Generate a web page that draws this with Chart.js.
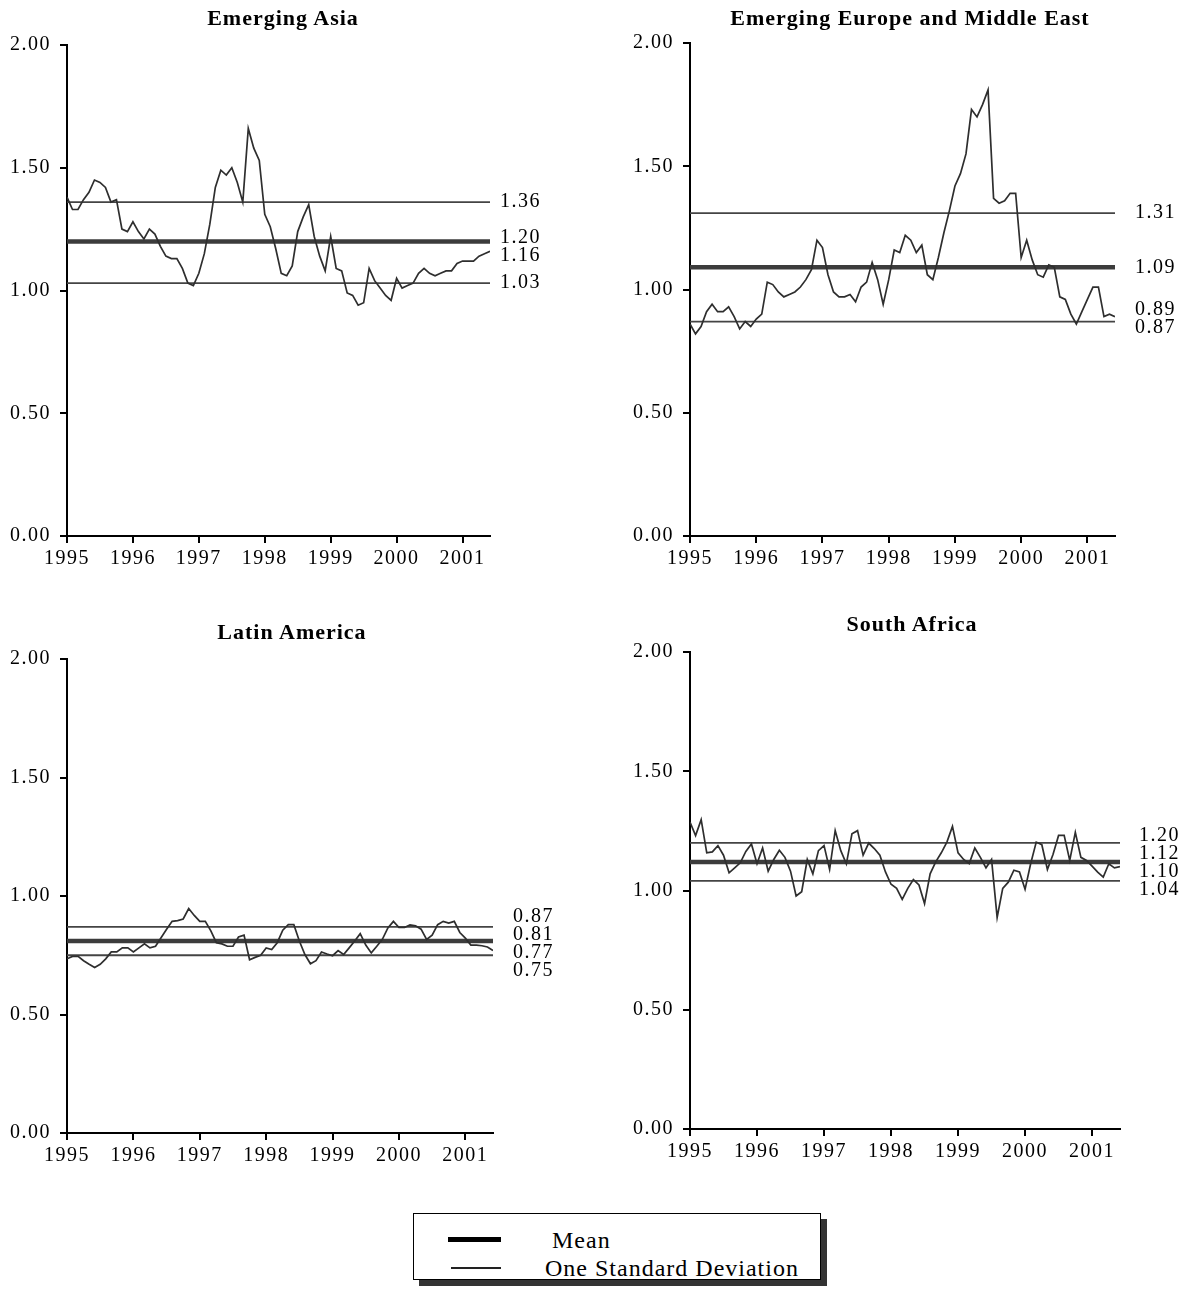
<!DOCTYPE html>
<html>
<head>
<meta charset="utf-8">
<script src="https://cdn.jsdelivr.net/npm/chart.js@4.4.1/dist/chart.umd.min.js"></script>
<style>
  html, body { margin: 0; padding: 0; background: #fff; }
  body { width: 1183px; height: 1295px; position: relative; overflow: hidden;
         font-family: "Liberation Serif", "Times New Roman", serif; color: #000; }
  canvas { position: absolute; }
  .title { position: absolute; font-weight: bold; font-size: 22px; letter-spacing: 1px; white-space: nowrap;
           transform: translate(-50%, -50%); }
  #legend { position: absolute; left: 413px; top: 1213px; width: 406px; height: 65px;
            border: 1px solid #000; background: #fff; box-shadow: 6px 6px 0 #333; }
  .lg-line { position: absolute; background: #000; }
  .lg-text { position: absolute; font-size: 24px; letter-spacing: 1px; white-space: nowrap; transform: translateY(-50%); }
</style>
</head>
<body>

<canvas id="c1"></canvas>
<canvas id="c2"></canvas>
<canvas id="c3"></canvas>
<canvas id="c4"></canvas>

<div class="title" id="t1"></div>
<div class="title" id="t2"></div>
<div class="title" id="t3"></div>
<div class="title" id="t4"></div>

<div id="legend">
  <div class="lg-line" style="left:34px; top:23px; width:53px; height:5px;"></div>
  <div class="lg-text" style="left:138px; top:26px;" id="lgMean"></div>
  <div class="lg-line" style="left:37px; top:53px; width:50px; height:1.5px; background:#222;"></div>
  <div class="lg-text" style="left:131px; top:54px;" id="lgSd"></div>
</div>

<script>
// ---------------- DATA ----------------
const titles = ["Emerging Asia", "Emerging Europe and Middle East", "Latin America", "South Africa"];
const years = ["1995", "1996", "1997", "1998", "1999", "2000", "2001"];
const yTicks = [0, 0.5, 1.0, 1.5, 2.0];
const legendLabels = ["Mean", "One Standard Deviation"];

// monthly values, January 1995 onwards
const asia = [1.38,1.33,1.33,1.37,1.40,1.45,1.44,1.42,1.36,1.37,
              1.25,1.24,1.28,1.24,1.21,1.25,1.23,1.18,1.14,1.13,
              1.13,1.09,1.03,1.02,1.07,1.15,1.27,1.42,1.49,1.47,
              1.50,1.44,1.36,1.66,1.58,1.53,1.31,1.26,1.17,1.07,
              1.06,1.10,1.24,1.30,1.35,1.22,1.14,1.08,1.22,1.09,
              1.08,0.99,0.98,0.94,0.95,1.09,1.04,1.01,0.98,0.96,
              1.05,1.01,1.02,1.03,1.07,1.09,1.07,1.06,1.07,1.08,
              1.08,1.11,1.12,1.12,1.12,1.14,1.15,1.16];
const europe = [0.86,0.82,0.85,0.91,0.94,0.91,0.91,0.93,0.89,0.84,
                0.87,0.85,0.88,0.90,1.03,1.02,0.99,0.97,0.98,0.99,
                1.01,1.04,1.08,1.20,1.17,1.06,0.99,0.97,0.97,0.98,
                0.95,1.01,1.03,1.11,1.04,0.94,1.04,1.16,1.15,1.22,
                1.20,1.15,1.18,1.06,1.04,1.13,1.23,1.32,1.42,1.47,
                1.55,1.73,1.70,1.75,1.81,1.37,1.35,1.36,1.39,1.39,
                1.13,1.20,1.12,1.06,1.05,1.10,1.09,0.97,0.96,0.90,
                0.86,0.91,0.96,1.01,1.01,0.89,0.90,0.89];
const latin = [0.735,0.745,0.745,0.727,0.712,0.698,0.712,0.735,0.764,0.764,
               0.781,0.781,0.764,0.781,0.798,0.781,0.788,0.824,0.860,0.893,
               0.896,0.903,0.947,0.918,0.893,0.893,0.853,0.803,0.798,0.788,
               0.788,0.827,0.835,0.731,0.741,0.750,0.781,0.774,0.803,0.856,
               0.879,0.879,0.810,0.753,0.714,0.727,0.764,0.755,0.748,0.770,
               0.753,0.781,0.810,0.841,0.793,0.760,0.788,0.817,0.865,0.893,
               0.867,0.867,0.878,0.874,0.860,0.817,0.835,0.879,0.893,0.886,
               0.893,0.846,0.822,0.793,0.793,0.790,0.785,0.770];
const safrica = [1.287,1.230,1.297,1.158,1.162,1.188,1.148,1.074,1.095,1.116,
                 1.164,1.195,1.112,1.178,1.081,1.130,1.169,1.139,1.081,0.977,
                 0.995,1.130,1.070,1.167,1.188,1.088,1.251,1.167,1.112,1.238,
                 1.251,1.148,1.199,1.176,1.148,1.078,1.026,1.009,0.963,1.009,
                 1.046,1.023,0.945,1.070,1.120,1.158,1.203,1.269,1.158,1.130,
                 1.113,1.178,1.139,1.095,1.130,0.887,1.009,1.035,1.085,1.078,
                 1.005,1.112,1.203,1.192,1.088,1.151,1.231,1.231,1.126,1.244,
                 1.139,1.126,1.102,1.077,1.056,1.112,1.095,1.100];

const means = [1.20, 1.09, 0.81, 1.12];
const upperSD = [1.36, 1.31, 0.87, 1.20];
const lowerSD = [1.03, 0.87, 0.75, 1.04];

// ---------------- LAYOUT ----------------
const seriesList = [asia, europe, latin, safrica];
const panels = [
  { canvas: {x: 0,   y: 0,   w: 590, h: 600}, area: {l: 67,  r: 490,  t: 45,  b: 536},  labelDx: 10, title: {x: 283, y: 18} },
  { canvas: {x: 600, y: 0,   w: 583, h: 600}, area: {l: 690, r: 1115, t: 43,  b: 536},  labelDx: 20, title: {x: 910, y: 18} },
  { canvas: {x: 0,   y: 600, w: 590, h: 580}, area: {l: 67,  r: 493,  t: 659, b: 1133}, labelDx: 20, title: {x: 292, y: 632} },
  { canvas: {x: 600, y: 600, w: 583, h: 580}, area: {l: 690, r: 1120, t: 652, b: 1129}, labelDx: 19, title: {x: 912, y: 624} }
];

const FONT = "'Liberation Serif', 'Times New Roman', serif";
const LAST = asia.length - 1;

const spacingPlugin = {
  id: 'spacing',
  beforeDraw(chart) { chart.ctx.letterSpacing = '1.5px'; }
};

const rightLabels = {
  id: 'rightLabels',
  afterDraw(chart, args, opts) {
    const ys = chart.scales.y;
    const items = opts.values.map(v => ({ v, y: ys.getPixelForValue(v) }))
                             .sort((a, b) => a.y - b.y);
    const sp = 18;
    let groups = items.map(it => ({ items: [it] }));
    const center = g => g.items.reduce((s, it) => s + it.y, 0) / g.items.length;
    let merged = true;
    while (merged) {
      merged = false;
      for (let i = 0; i < groups.length - 1; i++) {
        const a = groups[i], b = groups[i + 1];
        const aBottom = center(a) + (a.items.length - 1) * sp / 2;
        const bTop = center(b) - (b.items.length - 1) * sp / 2;
        if (bTop - aBottom < sp) {
          groups.splice(i, 2, { items: a.items.concat(b.items) });
          merged = true;
          break;
        }
      }
    }
    const ctx = chart.ctx;
    ctx.save();
    ctx.letterSpacing = '1.5px';
    ctx.font = "20px " + FONT;
    ctx.fillStyle = '#000';
    ctx.textAlign = 'left';
    ctx.textBaseline = 'middle';
    const x = chart.chartArea.right + opts.dx;
    groups.forEach(g => {
      const c = center(g);
      g.items.forEach((it, k) => {
        const y = c + (k - (g.items.length - 1) / 2) * sp;
        ctx.fillText(it.v.toFixed(2), x, y);
      });
    });
    ctx.restore();
  }
};

function hline(value, width, color) {
  return {
    data: [{x: 0, y: value}, {x: LAST, y: value}],
    borderColor: color, borderWidth: width, pointRadius: 0, fill: false, order: 2
  };
}

panels.forEach((p, i) => {
  const cv = document.getElementById('c' + (i + 1));
  cv.width = p.canvas.w; cv.height = p.canvas.h;
  cv.style.left = p.canvas.x + 'px'; cv.style.top = p.canvas.y + 'px';
  cv.style.width = p.canvas.w + 'px'; cv.style.height = p.canvas.h + 'px';

  const t = document.getElementById('t' + (i + 1));
  t.textContent = titles[i];
  t.style.left = p.title.x + 'px'; t.style.top = p.title.y + 'px';

  const series = seriesList[i];
  const yAxisWidth = p.area.l - p.canvas.x;
  const xAxisHeight = p.canvas.y + p.canvas.h - p.area.b;

  new Chart(cv, {
    type: 'line',
    data: {
      datasets: [
        { data: series.map((v, k) => ({x: k, y: v})), borderColor: '#2e2e2e', borderWidth: 1.7,
          pointRadius: 0, fill: false, tension: 0, order: 1 },
        hline(means[i], 4.5, '#3c3c3c'),
        hline(upperSD[i], 1.8, '#444'),
        hline(lowerSD[i], 1.8, '#444')
      ]
    },
    options: {
      responsive: false, animation: false, devicePixelRatio: 1,
      layout: { padding: { top: p.area.t - p.canvas.y, right: p.canvas.x + p.canvas.w - p.area.r, bottom: 0, left: 0 } },
      plugins: {
        legend: { display: false }, tooltip: { enabled: false }, title: { display: false },
        rightLabels: { values: [upperSD[i], means[i], series[LAST], lowerSD[i]], dx: p.labelDx }
      },
      scales: {
        x: {
          type: 'linear', min: 0, max: LAST,
          afterBuildTicks: s => { s.ticks = years.map((y, k) => ({ value: k * 12 })); },
          afterFit: s => { s.height = xAxisHeight; },
          ticks: { autoSkip: false, maxRotation: 0, color: '#000', padding: 4,
                   font: { family: FONT, size: 20 },
                   callback: (v) => years[Math.round(v / 12)] },
          grid: { drawOnChartArea: false, drawTicks: true, tickLength: 7, color: '#000', lineWidth: 2 },
          border: { display: true, color: '#000', width: 2 }
        },
        y: {
          min: 0, max: 2,
          afterBuildTicks: s => { s.ticks = yTicks.map(v => ({ value: v })); },
          afterFit: s => { s.width = yAxisWidth; },
          ticks: { color: '#000', padding: 9, font: { family: FONT, size: 20 },
                   callback: v => Number(v).toFixed(2) },
          grid: { drawOnChartArea: false, drawTicks: true, tickLength: 7, color: '#000', lineWidth: 2 },
          border: { display: true, color: '#000', width: 2 }
        }
      }
    },
    plugins: [spacingPlugin, rightLabels]
  });
});

document.getElementById('lgMean').textContent = legendLabels[0];
document.getElementById('lgSd').textContent = legendLabels[1];
</script>
</body>
</html>
